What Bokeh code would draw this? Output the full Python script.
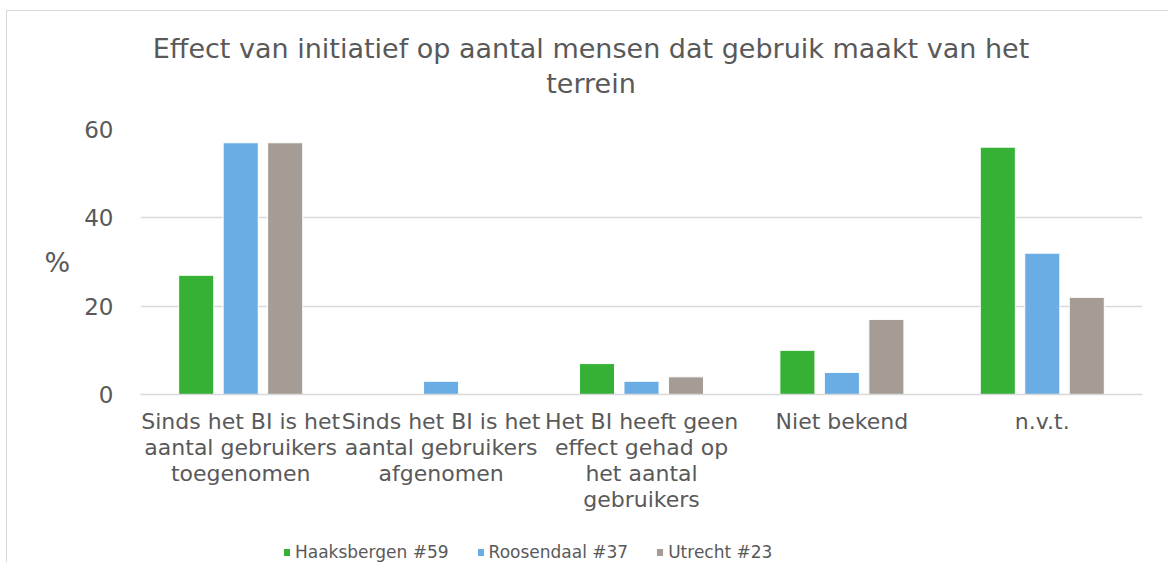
from bokeh.plotting import figure
from bokeh.models import ColumnDataSource, FactorRange, Range1d, Legend, LegendItem, Div
from bokeh.layouts import column
from bokeh.transform import dodge
from bokeh.embed import file_html
from bokeh.resources import INLINE

categories = [
    "Sinds het BI is het\naantal gebruikers\ntoegenomen",
    "Sinds het BI is het\naantal gebruikers\nafgenomen",
    "Het BI heeft geen\neffect gehad op\nhet aantal\ngebruikers",
    "Niet bekend",
    "n.v.t.",
]
series_names = ["Haaksbergen #59", "Roosendaal #37", "Utrecht #23"]
haaksbergen = [27, 0, 7, 10, 56]
roosendaal = [57, 3, 3, 5, 32]
utrecht = [57, 0, 4, 17, 22]
colors = ["#36B136", "#6AADE4", "#A59D95"]
y_ticks = [0, 20, 40, 60]
title_lines = ["Effect van initiatief op aantal mensen dat gebruik maakt van het", "terrein"]
y_title = "%"

FONT = "DejaVu Sans"
TXT = "#595959"

source = ColumnDataSource(dict(cat=categories, h=haaksbergen, r=roosendaal, u=utrecht))

TITLE_H = 89
p = figure(
    x_range=FactorRange(*categories), y_range=Range1d(0, 60),
    frame_width=1002, frame_height=265, output_backend="svg", toolbar_location=None,
    min_border_left=133, min_border_right=23, min_border_top=19, min_border_bottom=125,
)
p.title.visible = False
p.outline_line_color = None

cols = ["h", "r", "u"]
offsets = [-0.222, 0.0, 0.222]
for col, off, c in zip(cols, offsets, colors):
    p.vbar(x=dodge("cat", off, range=p.x_range), top=col, width=0.175, source=source,
           fill_color=c, line_color="white", line_width=1)

p.xgrid.grid_line_color = None
p.ygrid.grid_line_color = "#D9D9D9"
p.ygrid.grid_line_width = 1.5

ya = p.yaxis[0]
ya.ticker = y_ticks
ya.axis_line_color = None
ya.major_tick_line_color = None
ya.minor_tick_line_color = None
ya.major_tick_out = 0
ya.minor_tick_out = 0
ya.major_label_text_font = FONT
ya.major_label_text_font_size = "23px"
ya.major_label_text_color = TXT
ya.major_label_standoff = 27
ya.axis_label = y_title
ya.axis_label_text_font = FONT
ya.axis_label_text_font_size = "27px"
ya.axis_label_text_font_style = "normal"
ya.axis_label_text_color = TXT
ya.axis_label_standoff = 11
if "axis_label_orientation" in ya.properties():
    ya.axis_label_orientation = "horizontal"

xa = p.xaxis[0]
xa.axis_line_color = "#D9D9D9"
xa.axis_line_width = 1.5
xa.major_tick_line_color = None
xa.minor_tick_line_color = None
xa.major_tick_out = 0
xa.minor_tick_out = 0
xa.major_label_text_font = FONT
xa.major_label_text_font_size = "22px"
xa.major_label_text_color = TXT
xa.major_label_text_line_height = 1.04
xa.major_label_standoff = 14

# legend strip below the chart (same frame geometry as the chart, so the column keeps them aligned)
lg = figure(
    x_range=Range1d(0, 1), y_range=Range1d(0, 1),
    frame_width=1002, frame_height=30, output_backend="svg", toolbar_location=None,
    min_border_left=133, min_border_right=23, min_border_top=13, min_border_bottom=0,
    x_axis_location=None, y_axis_location=None,
)
lg.title.visible = False
lg.outline_line_color = None
lg.grid.visible = False
swatches = [lg.vbar(x=[0.5], top=[0], bottom=0, width=0.01, fill_color=c, line_color="white",
                    line_width=1) for c in colors]

legend = Legend(items=[LegendItem(label=n, renderers=[r]) for n, r in zip(series_names, swatches)],
                orientation="horizontal", location=(142, 0))
legend.glyph_width = 9
legend.glyph_height = 10
legend.label_height = 20
legend.label_text_font = FONT
legend.label_text_font_size = "17px"
legend.label_text_color = TXT
legend.spacing = 27
legend.label_standoff = 4
legend.border_line_color = None
legend.background_fill_alpha = 0
legend.margin = 0
legend.padding = 5
lg.add_layout(legend)

title_html = (
    '<div style="width:1150px;padding-left:8px;padding-top:15px;text-align:center;'
    'font-family:\'DejaVu Sans\';font-size:27px;line-height:35px;color:#595959;white-space:nowrap;">'
    + "<br>".join(title_lines) + "</div>"
)
title_div = Div(text=title_html, width=1158, height=TITLE_H)

layout = column(title_div, p, lg, spacing=0, margin=(10, 0, 0, 6))
layout.styles = {"border-left": "1px solid #D9D9D9", "border-top": "1px solid #D9D9D9",
                 "border-right": "1px solid #D9D9D9"}

open("out.html", "w").write(file_html(layout, INLINE))
